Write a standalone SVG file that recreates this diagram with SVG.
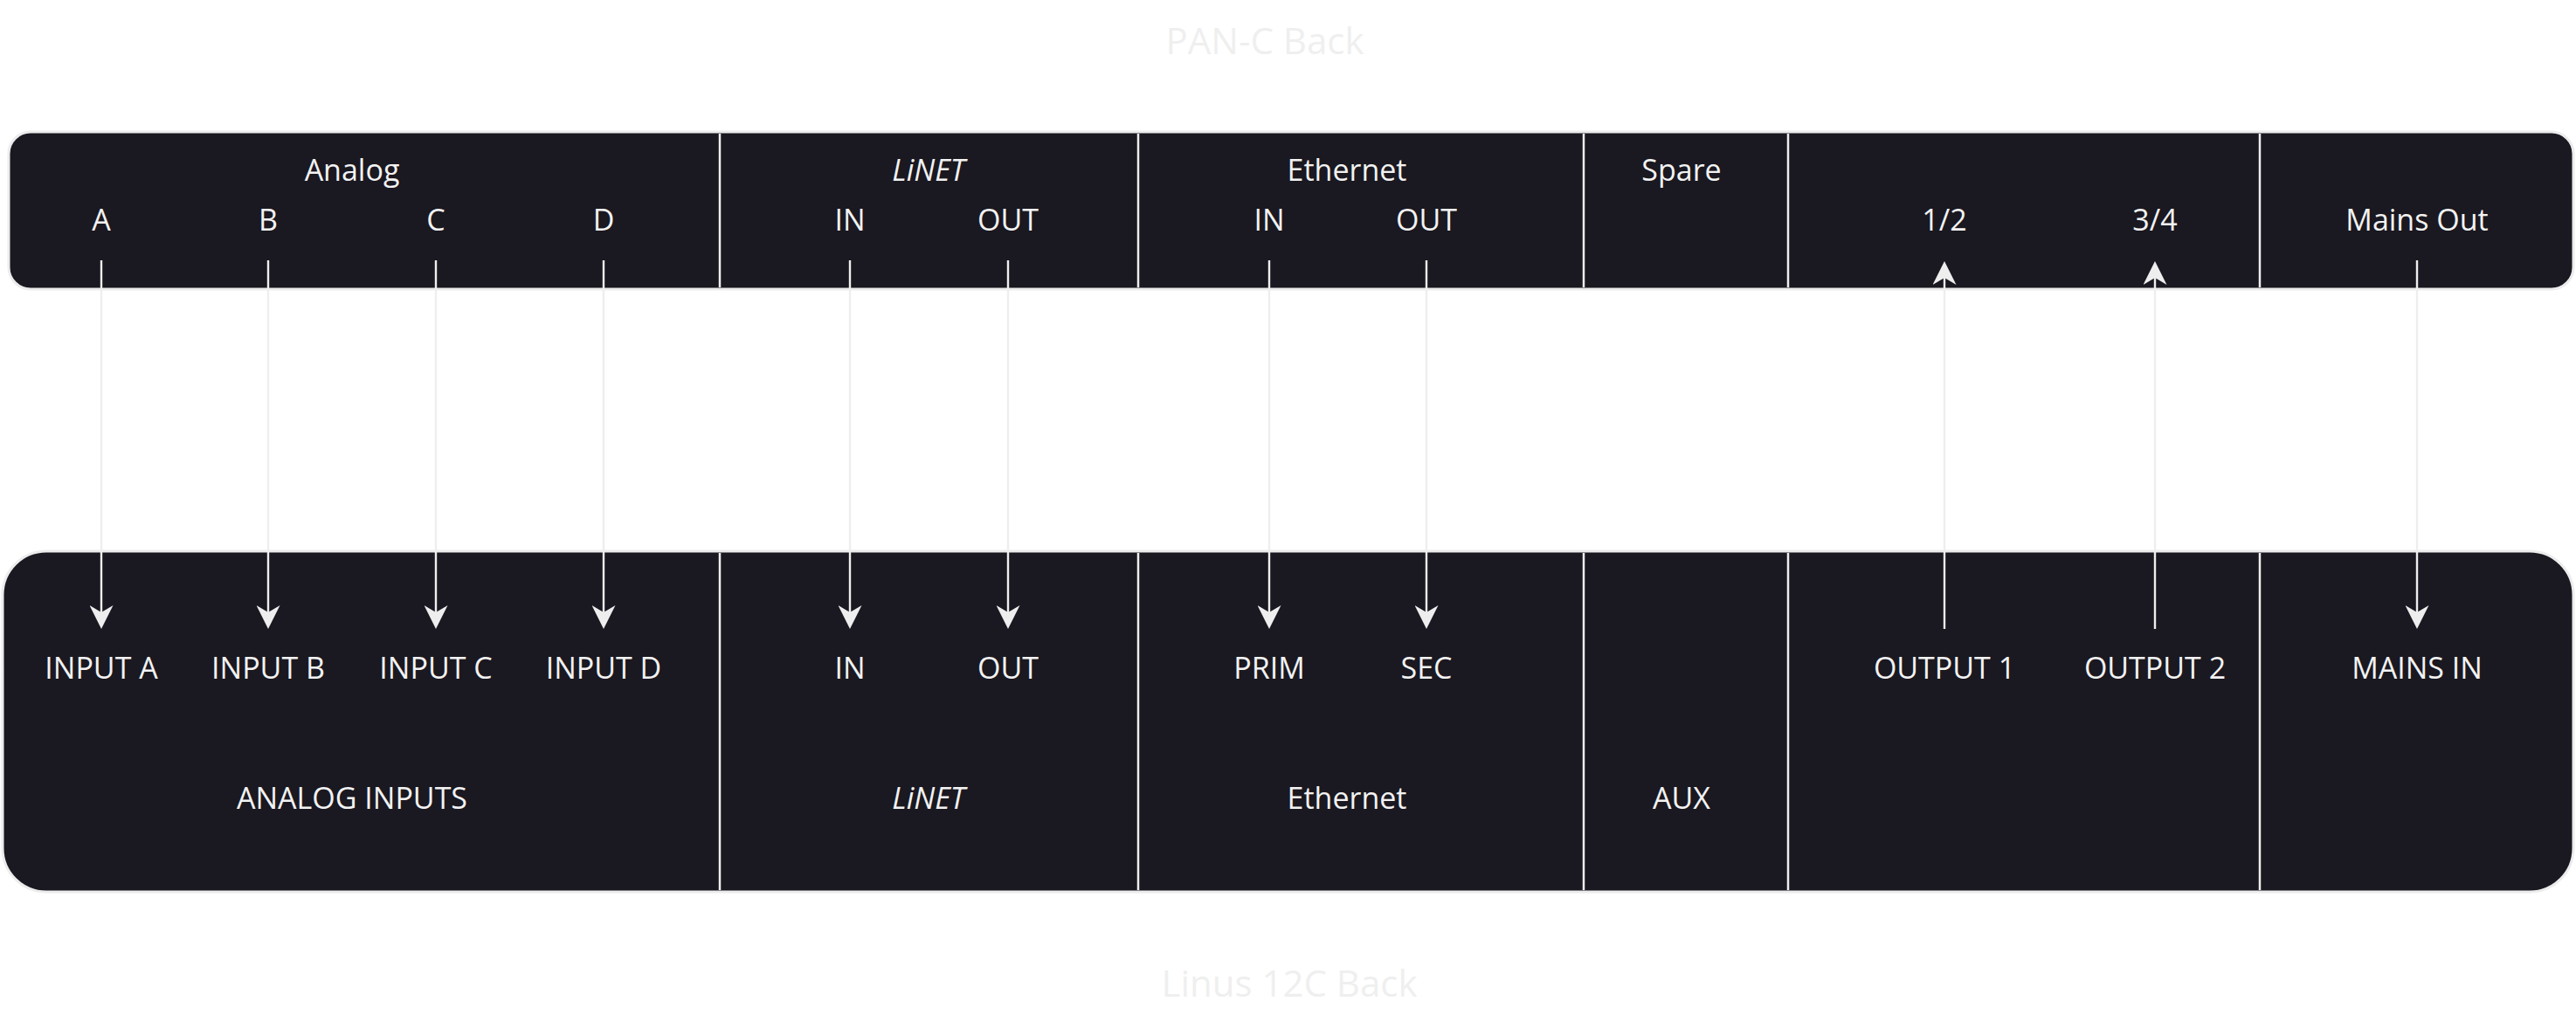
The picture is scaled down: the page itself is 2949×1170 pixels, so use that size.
<svg xmlns="http://www.w3.org/2000/svg" width="2949" height="1170" viewBox="0 0 2949 1170">
<defs>
<style>
.panel{fill:#1a1820;stroke:#ececec;stroke-width:3}
.div{stroke:#eeeeee;stroke-width:2.5}
.lbl{font-family:"Open Sans","Noto Sans",sans-serif;font-size:34px;fill:#f2f2f2;text-anchor:middle}
.it{font-style:italic}
.title{font-family:"Open Sans","Noto Sans",sans-serif;font-size:42px;fill:#efefef;text-anchor:middle}
.wire{stroke:#eeeeee;stroke-width:2.4;fill:none}
</style>
<marker id="arr" viewBox="0 0 27 27" refX="8" refY="13.5" markerWidth="27" markerHeight="27" orient="auto" markerUnits="userSpaceOnUse">
<path d="M0,0 L27,13.5 L0,27 L8,13.5 Z" fill="#eeeeee"/>
</marker>
</defs>
<rect width="2949" height="1170" fill="#ffffff"/>
<text class="title" x="1448" y="62">PAN-C Back</text>
<text class="title" x="1476" y="1141">Linus 12C Back</text>

<g id="pan-c">
<rect class="panel" x="10" y="151" width="2936" height="180" rx="25" ry="25"/>
<line class="div" x1="824" y1="153" x2="824" y2="329"/>
<line class="div" x1="1303" y1="153" x2="1303" y2="329"/>
<line class="div" x1="1813" y1="153" x2="1813" y2="329"/>
<line class="div" x1="2047" y1="153" x2="2047" y2="329"/>
<line class="div" x1="2587" y1="153" x2="2587" y2="329"/>
<text class="lbl" x="403" y="207">Analog</text>
<text class="lbl it" x="1063" y="207">LiNET</text>
<text class="lbl" x="1542" y="207">Ethernet</text>
<text class="lbl" x="1925" y="207">Spare</text>
<text class="lbl" x="116" y="264">A</text>
<text class="lbl" x="307" y="264">B</text>
<text class="lbl" x="499" y="264">C</text>
<text class="lbl" x="691" y="264">D</text>
<text class="lbl" x="973" y="264">IN</text>
<text class="lbl" x="1154" y="264">OUT</text>
<text class="lbl" x="1453" y="264">IN</text>
<text class="lbl" x="1633" y="264">OUT</text>
<text class="lbl" x="2226" y="264">1/2</text>
<text class="lbl" x="2467" y="264">3/4</text>
<text class="lbl" x="2767" y="264">Mains Out</text>
</g>

<g id="linus-12c">
<rect class="panel" x="3" y="631" width="2943" height="390" rx="50" ry="50"/>
<line class="div" x1="824" y1="633" x2="824" y2="1019"/>
<line class="div" x1="1303" y1="633" x2="1303" y2="1019"/>
<line class="div" x1="1813" y1="633" x2="1813" y2="1019"/>
<line class="div" x1="2047" y1="633" x2="2047" y2="1019"/>
<line class="div" x1="2587" y1="633" x2="2587" y2="1019"/>
<text class="lbl" x="116" y="777">INPUT A</text>
<text class="lbl" x="307" y="777">INPUT B</text>
<text class="lbl" x="499" y="777">INPUT C</text>
<text class="lbl" x="691" y="777">INPUT D</text>
<text class="lbl" x="973" y="777">IN</text>
<text class="lbl" x="1154" y="777">OUT</text>
<text class="lbl" x="1453" y="777">PRIM</text>
<text class="lbl" x="1633" y="777">SEC</text>
<text class="lbl" x="2226" y="777">OUTPUT 1</text>
<text class="lbl" x="2467" y="777">OUTPUT 2</text>
<text class="lbl" x="2767" y="777">MAINS IN</text>
<text class="lbl" x="403" y="926">ANALOG INPUTS</text>
<text class="lbl it" x="1063" y="926">LiNET</text>
<text class="lbl" x="1542" y="926">Ethernet</text>
<text class="lbl" x="1925" y="926">AUX</text>
</g>

<g id="connectors">
<line class="wire" x1="116" y1="298" x2="116" y2="701" marker-end="url(#arr)"/>
<line class="wire" x1="307" y1="298" x2="307" y2="701" marker-end="url(#arr)"/>
<line class="wire" x1="499" y1="298" x2="499" y2="701" marker-end="url(#arr)"/>
<line class="wire" x1="691" y1="298" x2="691" y2="701" marker-end="url(#arr)"/>
<line class="wire" x1="973" y1="298" x2="973" y2="701" marker-end="url(#arr)"/>
<line class="wire" x1="1154" y1="298" x2="1154" y2="701" marker-end="url(#arr)"/>
<line class="wire" x1="1453" y1="298" x2="1453" y2="701" marker-end="url(#arr)"/>
<line class="wire" x1="1633" y1="298" x2="1633" y2="701" marker-end="url(#arr)"/>
<line class="wire" x1="2226" y1="720" x2="2226" y2="318" marker-end="url(#arr)"/>
<line class="wire" x1="2467" y1="720" x2="2467" y2="318" marker-end="url(#arr)"/>
<line class="wire" x1="2767" y1="298" x2="2767" y2="701" marker-end="url(#arr)"/>
</g>
</svg>
